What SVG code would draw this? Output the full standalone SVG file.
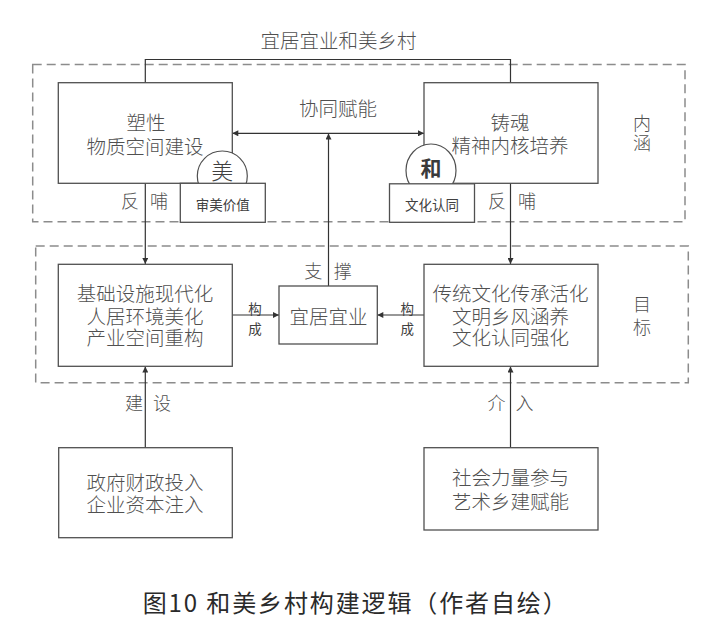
<svg xmlns="http://www.w3.org/2000/svg" width="723" height="634" viewBox="0 0 723 634">
<style>
  text { font-family: "Noto Sans CJK SC", "Liberation Sans", sans-serif; fill: #505050; text-anchor: middle; dominant-baseline: central; font-weight: 300; }
  .t { font-size: 19.5px; }
  .lbl { font-size: 18px; }
  .sm { font-size: 13.5px; font-weight: normal; fill: #404040; }
  .box { fill: #ffffff; stroke: #505050; stroke-width: 1.3; }
  .zone { fill: none; stroke: #8c8c8c; stroke-width: 1.5; stroke-dasharray: 9 5; }
  .conn { fill: none; stroke: #333333; stroke-width: 1.2; }
  .circ { fill: #ffffff; stroke: #505050; stroke-width: 1.2; }
  .cap { font-size: 24px; fill: #2a2a2a; font-weight: normal; }
</style>
<defs>
  <marker id="ah" viewBox="0 0 10 10" refX="10" refY="5" markerWidth="7" markerHeight="6" markerUnits="userSpaceOnUse" orient="auto-start-reverse">
    <path d="M0,0 L10,5 L0,10 z" fill="#333333"/>
  </marker>
</defs>
<rect width="723" height="634" fill="#ffffff"/>

<g id="zones">
  <rect id="zone-neihan" class="zone" x="32.7" y="64.5" width="652.3" height="157.2"/>
  <rect id="zone-mubiao" class="zone" x="35.7" y="246" width="652.6" height="136.7"/>
</g>

<g id="title">
  <text class="t" x="338.5" y="39">宜居宜业和美乡村</text>
</g>

<g id="connectors">
  <polyline class="conn" points="145.3,83 145.3,59.5 510.5,59.5 510.5,83"/>
  <line class="conn" x1="145.3" y1="183" x2="145.3" y2="264" marker-end="url(#ah)"/>
  <line class="conn" x1="510.5" y1="183" x2="510.5" y2="264" marker-end="url(#ah)"/>
  <line class="conn" x1="232.3" y1="133.3" x2="424" y2="133.3" marker-start="url(#ah)" marker-end="url(#ah)"/>
  <line class="conn" x1="328.5" y1="286" x2="328.5" y2="133.5" marker-end="url(#ah)"/>
  <line class="conn" x1="232.3" y1="315" x2="279" y2="315" marker-end="url(#ah)"/>
  <line class="conn" x1="424" y1="315" x2="377.3" y2="315" marker-end="url(#ah)"/>
  <line class="conn" x1="145.3" y1="447.7" x2="145.3" y2="366.5" marker-end="url(#ah)"/>
  <line class="conn" x1="510.5" y1="447.7" x2="510.5" y2="366.5" marker-end="url(#ah)"/>
</g>

<g id="connector-labels">
  <text class="t" x="338" y="107.7">协同赋能</text>
  <text class="lbl" x="130" y="200">反</text>
  <text class="lbl" x="159" y="200">哺</text>
  <text class="lbl" x="497" y="200">反</text>
  <text class="lbl" x="527" y="200">哺</text>
  <text class="lbl" x="313.3" y="270">支</text>
  <text class="lbl" x="342.7" y="270">撑</text>
  <text class="sm" x="255" y="307.7">构</text>
  <text class="sm" x="255" y="328.3">成</text>
  <text class="sm" x="407.3" y="307.7">构</text>
  <text class="sm" x="407.3" y="328.3">成</text>
  <text class="lbl" x="134" y="401.7">建</text>
  <text class="lbl" x="162" y="401.7">设</text>
  <text class="lbl" x="496.5" y="401.7">介</text>
  <text class="lbl" x="524.5" y="401.7">入</text>
  <text class="lbl" x="642" y="121.7">内</text>
  <text class="lbl" x="642" y="142">涵</text>
  <text class="lbl" x="642" y="303">目</text>
  <text class="lbl" x="642" y="325.5">标</text>
</g>

<g id="node-suxing">
  <rect class="box" x="58.3" y="82.7" width="174" height="100.6"/>
  <text class="t" x="146" y="121.7">塑性</text>
  <text class="t" x="145" y="145">物质空间建设</text>
</g>
<g id="node-mei">
  <ellipse class="circ" cx="222.3" cy="176" rx="25" ry="25"/>
  <text x="222.3" y="169" style="font-size:22px;fill:#404040">美</text>
</g>
<g id="node-shenmei">
  <rect class="box" x="180.3" y="183.3" width="85" height="39"/>
  <text class="sm" x="222.8" y="203.5">审美价值</text>
</g>

<g id="node-zhuhun">
  <rect class="box" x="424" y="82.7" width="174" height="100.6"/>
  <text class="t" x="510" y="121.7">铸魂</text>
  <text class="t" x="510" y="144">精神内核培养</text>
</g>
<g id="node-he">
  <ellipse class="circ" cx="431" cy="170.5" rx="25" ry="26.5"/>
  <text x="431" y="166.7" style="font-size:21px;font-weight:bold;fill:#3a3a3a">和</text>
</g>
<g id="node-wenhua">
  <rect class="box" x="389.5" y="183.8" width="85" height="38.5"/>
  <text class="sm" x="432" y="203.5">文化认同</text>
</g>

<g id="node-jichu">
  <rect class="box" x="58.3" y="264.3" width="174" height="102"/>
  <text class="t" x="145" y="292.3">基础设施现代化</text>
  <text class="t" x="145" y="315">人居环境美化</text>
  <text class="t" x="145" y="336.7">产业空间重构</text>
</g>
<g id="node-yiju">
  <rect class="box" x="279" y="286" width="98.3" height="58"/>
  <text class="t" x="328.5" y="315.7">宜居宜业</text>
</g>
<g id="node-chuantong">
  <rect class="box" x="424" y="264.3" width="174" height="102"/>
  <text class="t" x="510.5" y="292.3">传统文化传承活化</text>
  <text class="t" x="510.5" y="315">文明乡风涵养</text>
  <text class="t" x="510.5" y="336.7">文化认同强化</text>
</g>

<g id="node-zhengfu">
  <rect class="box" x="58.7" y="447.7" width="173.6" height="90"/>
  <text class="t" x="145" y="481.7">政府财政投入</text>
  <text class="t" x="145" y="503.3">企业资本注入</text>
</g>
<g id="node-shehui">
  <rect class="box" x="424" y="447.7" width="174" height="82.3"/>
  <text class="t" x="510.5" y="476.7">社会力量参与</text>
  <text class="t" x="510.5" y="500">艺术乡建赋能</text>
</g>

<g id="caption">
  <text class="cap" x="354.7" y="601.7" textLength="424" lengthAdjust="spacing">图10 和美乡村构建逻辑（作者自绘）</text>
</g>
</svg>
